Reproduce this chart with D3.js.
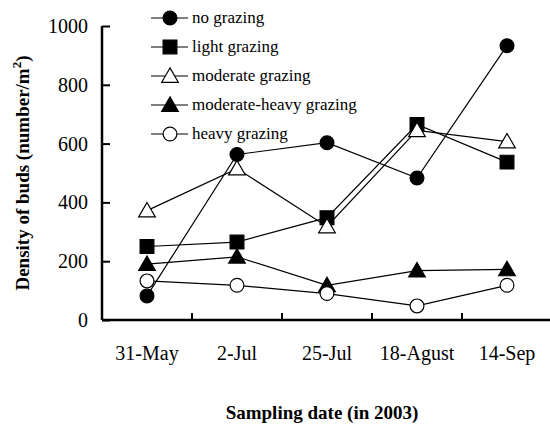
<!DOCTYPE html>
<html>
<head>
<meta charset="utf-8">
<script src="https://cdn.jsdelivr.net/npm/d3@7"></script>
<style>
  body { margin: 0; background: #fff; }
  svg text { font-family: "Liberation Serif", serif; fill: #000; }
</style>
</head>
<body>
<script>
// sampling dates and bud density per grazing treatment
const dates = ["31-May", "2-Jul", "25-Jul", "18-Agust", "14-Sep"];
const noGrazing = [82, 563, 603, 483, 933];
const lightGrazing = [250, 265, 348, 665, 537];
const moderateGrazing = [372, 515, 318, 645, 607];
const modHeavyGrazing = [190, 215, 118, 168, 172];
const heavyGrazing = [133, 118, 90, 48, 118];
const yTicks = [0, 200, 400, 600, 800, 1000];

const series = [
  { name: "no grazing", values: noGrazing, shape: "circle", fill: "#000" },
  { name: "light grazing", values: lightGrazing, shape: "square", fill: "#000" },
  { name: "moderate grazing", values: moderateGrazing, shape: "triangle", fill: "#fff" },
  { name: "moderate-heavy grazing", values: modHeavyGrazing, shape: "triangle", fill: "#000" },
  { name: "heavy grazing", values: heavyGrazing, shape: "circle", fill: "#fff" }
];

const width = 550, height = 424;
const serif = "'Liberation Serif', serif";
const svg = d3.select("body").append("svg")
  .attr("width", width)
  .attr("height", height);

const x = d3.scaleBand().domain(dates).range([102, 552]);
const y = d3.scaleLinear().domain([0, 1000]).range([320, 26]);

// symbol generators
const sym = {
  circle: d3.symbol().type(d3.symbolCircle).size(150),
  square: d3.symbol().type(d3.symbolSquare).size(190),
  triangle: d3.symbol().type(d3.symbolTriangle).size(120)
};

// axes
const xAxis = svg.append("g")
  .attr("transform", "translate(0,320)")
  .call(d3.axisBottom(x).tickSize(0).tickPadding(26));
xAxis.select(".domain").attr("d", "M102,0H550").attr("stroke-width", 2.5);
xAxis.selectAll("text").attr("font-size", 20);
// tick marks between categories
xAxis.selectAll(".sep")
  .data(dates.slice(1))
  .enter().append("line")
  .attr("class", "sep")
  .attr("x1", d => x(d)).attr("x2", d => x(d))
  .attr("y1", 0).attr("y2", -7)
  .attr("stroke", "#000").attr("stroke-width", 2);

const yAxis = svg.append("g")
  .attr("transform", "translate(102,0)")
  .call(d3.axisLeft(y).tickValues(yTicks).tickFormat(d3.format("d")).tickSize(-8).tickPadding(14));
yAxis.select(".domain").attr("d", "M0," + y(1000) + "V320").attr("stroke-width", 2.5);
yAxis.selectAll(".tick line").attr("stroke-width", 2);
yAxis.selectAll("text").attr("font-size", 20);

// lines and markers
const line = d3.line()
  .x((d, i) => x(dates[i]) + x.bandwidth() / 2)
  .y(d => y(d));

series.forEach(s => {
  svg.append("path")
    .datum(s.values)
    .attr("d", line)
    .attr("fill", "none")
    .attr("stroke", "#000")
    .attr("stroke-width", 1.2);
});

series.forEach(s => {
  svg.selectAll(null)
    .data(s.values)
    .enter().append("path")
    .attr("d", sym[s.shape])
    .attr("transform", (d, i) => "translate(" + (x(dates[i]) + x.bandwidth() / 2) + "," + (y(d) + (s.shape === "triangle" ? 1.5 : 0)) + ")")
    .attr("fill", s.fill)
    .attr("stroke", "#000")
    .attr("stroke-width", 1.2);
});

// legend
const legend = svg.append("g");
series.forEach((s, i) => {
  const ly = 18 + i * 29;
  legend.append("line")
    .attr("x1", 151).attr("x2", 188)
    .attr("y1", ly).attr("y2", ly)
    .attr("stroke", "#000").attr("stroke-width", 1.2);
  legend.append("path")
    .attr("d", sym[s.shape])
    .attr("transform", "translate(170," + (ly + (s.shape === "triangle" ? 1.5 : 0)) + ")")
    .attr("fill", s.fill)
    .attr("stroke", "#000")
    .attr("stroke-width", 1.2);
  legend.append("text")
    .attr("x", 192).attr("y", ly + 5)
    .attr("font-size", 17)
    .text(s.name);
});

// axis titles
svg.append("text")
  .attr("x", 322).attr("y", 419)
  .attr("text-anchor", "middle")
  .attr("font-size", 19)
  .attr("font-weight", "bold")
  .text("Sampling date (in 2003)");

const yt = svg.append("text")
  .attr("transform", "translate(29,173) rotate(-90)")
  .attr("text-anchor", "middle")
  .attr("font-size", 19)
  .attr("font-weight", "bold");
yt.append("tspan").text("Density of buds (number/m");
yt.append("tspan").attr("font-size", 13).attr("dy", -8).text("2");
yt.append("tspan").attr("dy", 8).text(")");

// force the serif face on every label, overriding the axis defaults
svg.selectAll("text").style("font-family", serif);
</script>
</body>
</html>
